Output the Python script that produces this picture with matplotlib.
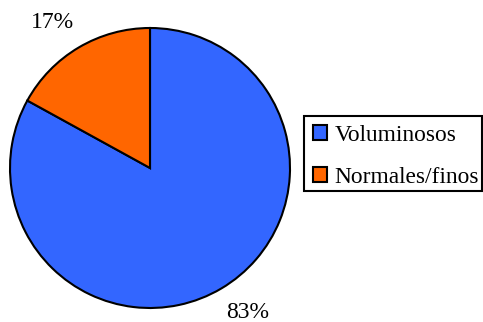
import matplotlib
matplotlib.use("Agg")
import matplotlib.pyplot as plt
from matplotlib.patches import Rectangle

labels = ["Voluminosos", "Normales/finos"]
values = [83, 17]
colors = ["#3366FF", "#FF6600"]

plt.rcParams["font.family"] = ["Liberation Serif", "DejaVu Serif"]

W, H = 483, 322
fig = plt.figure(figsize=(W / 100, H / 100), dpi=100)
ax = fig.add_axes([10 / W, 14 / H, 280 / W, 280 / H])

wedges, texts = ax.pie(
    values, colors=colors, startangle=90, counterclock=False,
    labels=[f"{v}%" for v in values], labeldistance=1.24,
    wedgeprops=dict(edgecolor="black", linewidth=1.5),
    textprops=dict(fontsize=17, color="black"),
)
# percentage labels sit just outside the rim
label_pos = [(0.70, -1.03), (-0.70, 1.04)]
for t, p in zip(texts, label_pos):
    t.set_position(p)
    t.set_ha("center")
    t.set_va("center")
    t.set_clip_on(False)
ax.set_xlim(-1, 1)
ax.set_ylim(-1, 1)
ax.set_aspect("equal")
for w in wedges:
    w.set_clip_on(False)

# legend entries without their own frame; the box is drawn separately
leg = fig.legend(
    wedges, labels, loc="upper left",
    bbox_to_anchor=(313 / W, 1 - 125 / H),
    fontsize=16.8, frameon=False,
    handlelength=0.6, handleheight=0.6, handletextpad=0.33,
    borderpad=0, labelspacing=0.9, borderaxespad=0,
)
for h in leg.legend_handles:
    h.set_edgecolor("black")
    h.set_linewidth(1.5)

fig.patches.append(Rectangle(
    (304 / W, 1 - 191 / H), (482 - 304) / W, (191 - 116) / H,
    transform=fig.transFigure, fill=False, edgecolor="black", linewidth=1.5,
))

fig.savefig("out.png", dpi=100)
